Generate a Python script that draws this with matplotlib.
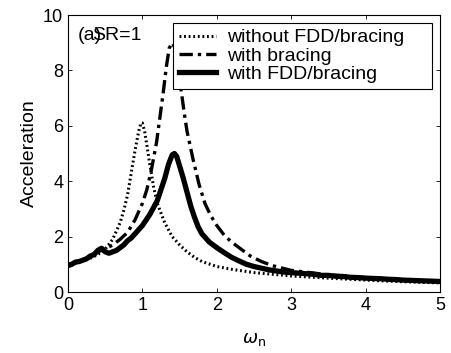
import matplotlib
matplotlib.use("Agg")
import matplotlib.pyplot as plt

plt.rcParams['font.family'] = ['Liberation Sans', 'DejaVu Sans']

# without FDD/bracing (dotted)
w_without = [0.0, 0.1, 0.2, 0.3, 0.4, 0.5, 0.6, 0.7, 0.75, 0.8, 0.85, 0.9, 0.95, 0.98, 1.0,
             1.03, 1.06, 1.1, 1.15, 1.2, 1.3, 1.4, 1.5, 1.6, 1.7, 1.8, 2.0, 2.2, 2.5, 3.0,
             3.5, 4.0, 4.5, 5.0]
a_without = [1.0, 1.05, 1.12, 1.22, 1.35, 1.55, 1.9, 2.5, 2.95, 3.5, 4.3, 5.1, 5.8, 6.1, 6.1,
             5.8, 5.3, 4.6, 3.8, 3.2, 2.5, 2.0, 1.7, 1.45, 1.25, 1.1, 0.92, 0.82, 0.7, 0.58,
             0.5, 0.43, 0.37, 0.33]

# with bracing (dash-dot)
w_brace = [0.0, 0.1, 0.2, 0.3, 0.4, 0.5, 0.6, 0.7, 0.8, 0.9, 1.0, 1.06, 1.12, 1.19, 1.24,
           1.28, 1.32, 1.36, 1.4, 1.44, 1.48, 1.52, 1.56, 1.6, 1.68, 1.76, 1.84, 1.92, 2.0,
           2.1, 2.2, 2.3, 2.45, 2.6, 2.75, 3.0, 3.5, 4.0, 4.5, 5.0]
a_brace = [1.0, 1.05, 1.15, 1.3, 1.45, 1.55, 1.7, 1.9, 2.15, 2.6, 3.2, 3.7, 4.4, 5.4, 6.4,
           7.2, 8.1, 8.8, 9.0, 8.8, 8.1, 7.3, 6.5, 5.8, 4.8, 3.9, 3.2, 2.75, 2.4,
           2.05, 1.8, 1.6, 1.3, 1.1, 0.95, 0.78, 0.62, 0.52, 0.45, 0.38]

# with FDD/bracing (solid)
w_fdd = [0.0, 0.05, 0.1, 0.15, 0.2, 0.25, 0.3, 0.35, 0.4, 0.45, 0.5, 0.55, 0.6, 0.65, 0.7,
         0.75, 0.8, 0.85, 0.9, 1.0, 1.1, 1.2, 1.25, 1.3, 1.35, 1.4, 1.43, 1.46, 1.5, 1.55,
         1.6, 1.65, 1.7, 1.75, 1.8, 1.9, 2.0, 2.1, 2.2, 2.3, 2.4, 2.5, 2.6, 2.7, 2.8, 2.9,
         3.0, 3.1, 3.2, 3.3, 3.4, 3.5, 3.6, 3.7, 3.8, 3.9, 4.0, 4.1, 4.2, 4.3, 4.4, 4.5,
         4.6, 4.7, 4.8, 4.9, 5.0]
a_fdd = [0.95, 1.0, 1.08, 1.1, 1.15, 1.2, 1.3, 1.35, 1.5, 1.58, 1.45, 1.4, 1.45, 1.5, 1.6,
         1.7, 1.85, 1.95, 2.1, 2.4, 2.8, 3.3, 3.7, 4.1, 4.6, 4.95, 5.0, 4.9, 4.55, 4.1,
         3.6, 3.1, 2.7, 2.35, 2.1, 1.8, 1.6, 1.42, 1.25, 1.12, 1.0, 0.92, 0.86, 0.8, 0.76, 0.72,
         0.7, 0.68, 0.66, 0.64, 0.6, 0.6, 0.57, 0.56, 0.53, 0.52, 0.5, 0.49, 0.48, 0.46, 0.45, 0.43,
         0.42, 0.41, 0.4, 0.39, 0.38]

labels = ['without FDD/bracing', 'with bracing', 'with FDD/bracing']
xticks = [0, 1, 2, 3, 4, 5]
yticks = [0, 2, 4, 6, 8, 10]

fig = plt.figure(figsize=(4.51, 3.53), dpi=100)
ax = fig.add_axes([0.1508, 0.1728, 0.8248, 0.7847])

ax.plot(w_without, a_without, color='black', linestyle=(0, (0.6, 0.9)), linewidth=2.2, label=labels[0])
ax.plot(w_brace, a_brace, color='black', linestyle=(0, (4, 1.5, 1, 1.5)), linewidth=2.4, label=labels[1])
ax.plot(w_fdd, a_fdd, color='black', linestyle='-', linewidth=3.8, label=labels[2])

ax.set_xlim(0, 5)
ax.set_ylim(0, 10)
ax.set_xticks(xticks)
ax.set_yticks(yticks)
ax.tick_params(direction='in', top=True, right=True, labelsize=13, length=3, width=0.6)
for s in ax.spines.values():
    s.set_linewidth(0.8)

ax.set_xlabel(r'$\omega_{\rm n}$', fontsize=13, labelpad=12)
ax.set_ylabel('Acceleration', fontsize=14, labelpad=4)

ax.text(0.027, 0.955, '(a)', transform=ax.transAxes, fontsize=14, va='top', ha='left')
ax.text(0.0645, 0.955, 'SR=1', transform=ax.transAxes, fontsize=14, va='top', ha='left')

leg = ax.legend(loc='upper left', bbox_to_anchor=(0.282, 0.5, 0.696, 0.471), mode='expand',
                fontsize=14, frameon=True, fancybox=False, edgecolor='black', framealpha=1,
                handlelength=1.9, handletextpad=0.6, borderpad=0.3, labelspacing=0.03,
                borderaxespad=0)
leg.get_frame().set_linewidth(0.8)

fig.savefig('out.png', dpi=100)
